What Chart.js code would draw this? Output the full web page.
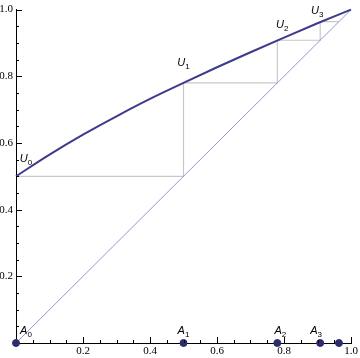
<!DOCTYPE html>
<html>
<head>
<meta charset="utf-8">
<script src="https://cdn.jsdelivr.net/npm/chart.js@4.4.1/dist/chart.umd.min.js"></script>
<style>
  html, body { margin: 0; padding: 0; background: #fff; }
  canvas { display: block; }
</style>
</head>
<body>
<canvas id="c" width="360" height="358"></canvas>
<script>
// curve
const curveX = [0, 0.1, 0.2, 0.3, 0.4, 0.5, 0.6, 0.7, 0.8, 0.9, 1.0];
const curveY = [0.5, 0.565, 0.625, 0.68, 0.732, 0.78, 0.827, 0.872, 0.916, 0.959, 1.0];
// iterates U_k (heights) and A_k (abscissas on the x axis)
const uValues = [0.5, 0.78, 0.908, 0.964];
const aValues = [0, 0.5, 0.78, 0.908, 0.964];
const uLabels = ['U0', 'U1', 'U2', 'U3'];
const aLabels = ['A0', 'A1', 'A2', 'A3'];

const CURVE = 'rgb(62,58,140)';
const DIAG = 'rgb(150,150,205)';
const WEB = 'rgb(200,200,200)';
const DOT = 'rgb(45,45,110)';

// cobweb path: horizontal to the diagonal, then vertical up to the curve
const web = [{ x: 0, y: uValues[0] }];
for (let k = 0; k < uValues.length - 1; k++) {
  web.push({ x: uValues[k], y: uValues[k] });
  web.push({ x: uValues[k], y: uValues[k + 1] });
}
web.push({ x: uValues[uValues.length - 1], y: uValues[uValues.length - 1] });

// inward Mathematica-style ticks, majors every 0.2, minors every 0.05
const tickPlugin = {
  id: 'ticks',
  afterDraw(chart) {
    const ctx = chart.ctx;
    const xs = chart.scales.x, ys = chart.scales.y;
    const a = chart.chartArea;
    ctx.save();
    ctx.strokeStyle = '#000';
    ctx.lineWidth = 1;
    ctx.beginPath();
    for (let k = 1; k <= 20; k++) {
      const len = k % 4 === 0 ? 6 : 3;
      const px = Math.round(xs.getPixelForValue(k / 20)) + 0.5;
      ctx.moveTo(px, a.bottom);
      ctx.lineTo(px, a.bottom - len);
      const py = Math.round(ys.getPixelForValue(k / 20)) + 0.5;
      ctx.moveTo(a.left, py);
      ctx.lineTo(a.left + len, py);
    }
    ctx.stroke();
    ctx.restore();
  },
};

function subLabel(ctx, text, cx, baseline) {
  const big = 'italic 11px "Liberation Sans", Arial, sans-serif';
  const small = '8px "Liberation Sans", Arial, sans-serif';
  ctx.font = big;
  const w1 = ctx.measureText(text[0]).width;
  ctx.font = small;
  const w2 = ctx.measureText(text.slice(1)).width;
  const x = cx - (w1 + w2) / 2;
  ctx.font = big;
  ctx.fillText(text[0], x, baseline);
  ctx.font = small;
  ctx.fillText(text.slice(1), x + w1, baseline + 3);
}

const labelPlugin = {
  id: 'labels',
  afterDatasetsDraw(chart) {
    const ctx = chart.ctx;
    const xs = chart.scales.x, ys = chart.scales.y;
    const ux = [10, 0, 5, -3], uy = [14, 17, 12, 8];
    const ax = [10, 0, 3, -4];
    ctx.save();
    ctx.fillStyle = '#000';
    ctx.textBaseline = 'alphabetic';
    uLabels.forEach((t, i) => {
      const px = xs.getPixelForValue(aValues[i]);
      const py = ys.getPixelForValue(uValues[i]);
      subLabel(ctx, t, px + ux[i], py - uy[i]);
    });
    aLabels.forEach((t, i) => {
      const px = xs.getPixelForValue(aValues[i]);
      const py = ys.getPixelForValue(0);
      subLabel(ctx, t, px + ax[i], py - 9);
    });
    ctx.restore();
  },
};

function tickLabel(v) {
  const k = Math.round(v * 20);
  return k % 4 === 0 && k > 0 ? (k / 20).toFixed(1) : '';
}

const tickFont = { family: '"Liberation Serif", "Times New Roman", serif', size: 11 };

new Chart(document.getElementById('c'), {
  type: 'scatter',
  data: {
    datasets: [
      {
        data: aValues.map((x) => ({ x, y: 0 })),
        backgroundColor: DOT,
        borderColor: DOT,
        pointRadius: 3.5,
        showLine: false,
        clip: false,
        order: 0,
      },
      {
        data: curveX.map((x, i) => ({ x, y: curveY[i] })),
        borderColor: CURVE,
        borderWidth: 2,
        pointRadius: 0,
        showLine: true,
        cubicInterpolationMode: 'monotone',
        clip: false,
        order: 1,
      },
      {
        data: [{ x: 0, y: 0 }, { x: 1, y: 1 }],
        borderColor: DIAG,
        borderWidth: 1,
        pointRadius: 0,
        showLine: true,
        order: 2,
      },
      {
        data: web,
        borderColor: WEB,
        borderWidth: 1.2,
        pointRadius: 0,
        showLine: true,
        order: 3,
      },
    ],
  },
  options: {
    responsive: false,
    animation: false,
    events: [],
    layout: { padding: { top: 7, right: 9, left: 0, bottom: 0 } },
    plugins: { legend: { display: false }, tooltip: { enabled: false } },
    scales: {
      x: {
        type: 'linear',
        min: 0,
        max: 1,
        grid: { display: false, drawTicks: false, tickLength: 0 },
        border: { display: true, color: '#000', width: 1 },
        afterFit: (s) => { s.height = 15; },
        ticks: {
          stepSize: 0.05,
          autoSkip: false,
          maxRotation: 0,
          padding: 2,
          color: '#000',
          font: tickFont,
          callback: tickLabel,
        },
      },
      y: {
        type: 'linear',
        min: 0,
        max: 1,
        grid: { display: false, drawTicks: false, tickLength: 0 },
        border: { display: true, color: '#000', width: 1 },
        afterFit: (s) => { s.width = 16; },
        ticks: {
          stepSize: 0.05,
          autoSkip: false,
          padding: 3,
          color: '#000',
          font: tickFont,
          callback: tickLabel,
        },
      },
    },
  },
  plugins: [tickPlugin, labelPlugin],
});
</script>
</body>
</html>
